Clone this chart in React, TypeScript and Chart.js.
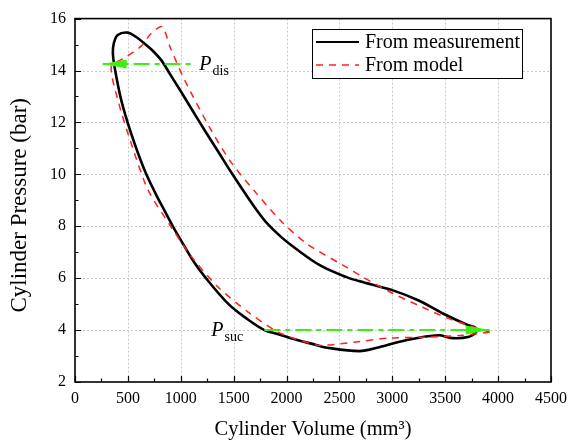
import React, { useEffect, useRef } from 'react';
import { Chart, registerables } from 'chart.js';

Chart.register(...registerables);

// ---------- data ----------
const measVolume = [3800, 3781, 3716, 3473, 3249, 3006, 2726, 2567, 2318, 2070, 1945, 1821, 1736, 1652, 1478, 1350, 1230, 1115, 1000, 900, 815, 730, 654, 575, 498, 404, 367, 358, 373, 436, 529, 654, 763, 840, 925, 1010, 1120, 1230, 1447, 1620, 1790, 1914, 2100, 2287, 2353, 2689, 2876, 3128, 3436, 3566, 3716, 3800];
const measPressure = [3.92, 4.11, 4.19, 4.65, 5.14, 5.53, 5.84, 6.04, 6.49, 7.19, 7.6, 8.09, 8.52, 9.0, 10.07, 10.9, 11.67, 12.43, 13.2, 13.85, 14.4, 14.78, 15.05, 15.3, 15.46, 15.37, 15.05, 14.67, 14.16, 12.88, 11.6, 10.2, 9.25, 8.65, 8.0, 7.4, 6.65, 6.04, 5.02, 4.45, 4.0, 3.85, 3.62, 3.42, 3.34, 3.19, 3.34, 3.61, 3.8, 3.69, 3.73, 3.92];

const modelVolume = [3921, 3716, 3501, 3286, 3006, 2726, 2537, 2194, 1945, 1696, 1478, 1291, 1043, 903, 824, 722, 628, 467, 343, 404, 529, 690, 905, 1105, 1354, 1634, 1886, 2035, 2287, 2381, 2633, 2969, 3342, 3660, 3921];
const modelPressure = [3.92, 4.19, 4.49, 4.88, 5.41, 6.03, 6.49, 7.32, 8.21, 9.36, 10.45, 11.67, 13.58, 14.86, 15.69, 15.44, 14.95, 14.48, 14.16, 12.88, 11.22, 9.4, 8.0, 6.81, 5.65, 4.7, 4.0, 3.73, 3.42, 3.42, 3.53, 3.69, 3.73, 3.8, 3.92];

const disLineVolume = [261, 1100];
const disLinePressure = [14.25, 14.25];
const sucLineVolume = [1790, 3921];
const sucLinePressure = [4.0, 4.0];

const xTickValues = [0, 500, 1000, 1500, 2000, 2500, 3000, 3500, 4000, 4500];
const yTickValues = [2, 4, 6, 8, 10, 12, 14, 16];
const legendLabels = ['From measurement', 'From model'];
const xTitle = 'Cylinder Volume (mm³)';
const yTitle = 'Cylinder Pressure (bar)';

// ---------- styles ----------
const FONT = '"Liberation Serif", "Times New Roman", serif';
const GREEN = '#3cee12';
const RED = '#ff2020';

const pts = (xs: number[], ys: number[]) => xs.map((v, i) => ({ x: v, y: ys[i] }));

const decor = {
  id: 'decor',
  beforeDatasetsDraw(chart: any) {
    const { ctx, chartArea: a, scales } = chart;
    const x = scales.x, y = scales.y;
    ctx.save();
    ctx.strokeStyle = '#c8c8c8';
    ctx.lineWidth = 1;
    ctx.setLineDash([2, 2]);
    ctx.beginPath();
    for (const v of xTickValues) {
      const px = Math.round(x.getPixelForValue(v)) + 0.5;
      if (px < a.left + 2 || px > a.right - 2) continue;
      ctx.moveTo(px, a.top);
      ctx.lineTo(px, a.bottom);
    }
    for (const v of yTickValues) {
      const py = Math.round(y.getPixelForValue(v)) + 0.5;
      if (py < a.top + 2 || py > a.bottom - 2) continue;
      ctx.moveTo(a.left, py);
      ctx.lineTo(a.right, py);
    }
    ctx.stroke();
    ctx.restore();
  },
  afterDatasetsDraw(chart: any) {
    const { ctx, scales } = chart;
    const x = scales.x, y = scales.y;
    const arrow = (tx: number, ty: number, dir: number) => {
      const L = 24, h = 4.5;
      ctx.beginPath();
      ctx.moveTo(tx, ty);
      ctx.lineTo(tx - dir * L, ty - h);
      ctx.lineTo(tx - dir * L, ty + h);
      ctx.closePath();
      ctx.fill();
    };
    ctx.save();
    ctx.fillStyle = GREEN;
    arrow(x.getPixelForValue(disLineVolume[0]), y.getPixelForValue(disLinePressure[0]), -1);
    arrow(x.getPixelForValue(sucLineVolume[1]), y.getPixelForValue(sucLinePressure[1]), 1);

    ctx.fillStyle = '#000';
    ctx.textBaseline = 'alphabetic';
    ctx.textAlign = 'left';
    const drawP = (px: number, py: number, sub: string) => {
      ctx.font = `italic 20px ${FONT}`;
      ctx.fillText('P', px, py);
      const w = ctx.measureText('P').width;
      ctx.font = `14px ${FONT}`;
      ctx.fillText(sub, px + w + 1, py + 5);
    };
    const dEndX = x.getPixelForValue(disLineVolume[1]);
    const dY = y.getPixelForValue(disLinePressure[1]);
    drawP(dEndX + 8, dY + 6, 'dis');
    const sStartX = x.getPixelForValue(sucLineVolume[0]);
    const sY = y.getPixelForValue(sucLinePressure[0]);
    drawP(sStartX - 53, sY + 6, 'suc');
    ctx.restore();
  },
  afterDraw(chart: any) {
    const { ctx, chartArea: a, scales } = chart;
    const x = scales.x, y = scales.y;
    ctx.save();
    // frame
    ctx.strokeStyle = '#000';
    ctx.lineWidth = 1.6;
    ctx.setLineDash([]);
    ctx.strokeRect(a.left, a.top, a.right - a.left, a.bottom - a.top);
    // inward ticks
    ctx.lineWidth = 1.2;
    ctx.beginPath();
    for (let v = 0; v <= 4500; v += 250) {
      const px = Math.round(x.getPixelForValue(v)) + 0.5;
      const len = v % 500 === 0 ? 6 : 3.5;
      ctx.moveTo(px, a.bottom);
      ctx.lineTo(px, a.bottom - len);
    }
    for (let v = 2; v <= 16; v += 1) {
      const py = Math.round(y.getPixelForValue(v)) + 0.5;
      const len = v % 2 === 0 ? 6 : 3.5;
      ctx.moveTo(a.left, py);
      ctx.lineTo(a.left + len, py);
    }
    ctx.stroke();

    // y title
    ctx.fillStyle = '#000';
    ctx.font = `23px ${FONT}`;
    ctx.textAlign = 'center';
    ctx.textBaseline = 'middle';
    ctx.translate(20, (a.top + a.bottom) / 2 + 5);
    ctx.rotate(-Math.PI / 2);
    ctx.fillText(yTitle, 0, 0);
    ctx.setTransform(1, 0, 0, 1, 0, 0);

    // legend
    const bx = 312, by = 29, bw = 210, bh = 49;
    ctx.fillStyle = '#fff';
    ctx.fillRect(bx, by, bw, bh);
    ctx.lineWidth = 1;
    ctx.strokeStyle = '#000';
    ctx.strokeRect(bx + 0.5, by + 0.5, bw, bh);
    const rows = [by + 13, by + 36];
    ctx.lineWidth = 2.2;
    ctx.beginPath();
    ctx.moveTo(bx + 4, rows[0]);
    ctx.lineTo(bx + 47, rows[0]);
    ctx.stroke();
    ctx.strokeStyle = RED;
    ctx.lineWidth = 1.5;
    ctx.setLineDash([7, 6]);
    ctx.beginPath();
    ctx.moveTo(bx + 4, rows[1]);
    ctx.lineTo(bx + 47, rows[1]);
    ctx.stroke();
    ctx.setLineDash([]);
    ctx.fillStyle = '#000';
    ctx.font = `20px ${FONT}`;
    ctx.textBaseline = 'middle';
    ctx.textAlign = 'left';
    ctx.fillText(legendLabels[0], bx + 53, rows[0] + 1);
    ctx.fillText(legendLabels[1], bx + 53, rows[1] + 1);
    ctx.restore();
  },
};

export default function App() {
  const ref = useRef<HTMLCanvasElement | null>(null);
  useEffect(() => {
    if (!ref.current) return;
    const chart = new Chart(ref.current, {
      type: 'scatter',
      data: {
        datasets: [
          {
            label: 'Pdis',
            data: pts(disLineVolume, disLinePressure),
            showLine: true,
            borderColor: GREEN,
            borderWidth: 2,
            borderDash: [16, 5, 5, 5],
            pointRadius: 0,
          },
          {
            label: 'Psuc',
            data: pts(sucLineVolume, sucLinePressure),
            showLine: true,
            borderColor: GREEN,
            borderWidth: 2,
            borderDash: [16, 5, 5, 5],
            pointRadius: 0,
          },
          {
            label: legendLabels[1],
            data: pts(modelVolume, modelPressure),
            showLine: true,
            borderColor: RED,
            borderWidth: 1.5,
            borderDash: [7, 6],
            pointRadius: 0,
            tension: 0.25,
          },
          {
            label: legendLabels[0],
            data: pts(measVolume, measPressure),
            showLine: true,
            borderColor: '#000',
            borderWidth: 2.6,
            pointRadius: 0,
            tension: 0.35,
          },
        ],
      },
      options: {
        animation: false,
        responsive: false,
        events: [],
        layout: { padding: { top: 17, right: 17, left: 0, bottom: 0 } },
        plugins: { legend: { display: false }, tooltip: { enabled: false } },
        scales: {
          x: {
            type: 'linear',
            min: 0,
            max: 4500,
            afterFit: (s: any) => { s.height = 60; },
            afterBuildTicks: (s: any) => { s.ticks = xTickValues.map((v) => ({ value: v })); },
            ticks: { color: '#000', font: { family: FONT, size: 16 }, padding: 7, maxRotation: 0, callback: (v: any) => String(v) },
            grid: { display: false, drawTicks: false },
            border: { display: false },
            title: { display: true, text: xTitle, color: '#000', font: { family: FONT, size: 20.5 }, padding: { top: 0, bottom: 0 } },
          },
          y: {
            type: 'linear',
            min: 2,
            max: 16,
            afterFit: (s: any) => { s.width = 75; },
            afterBuildTicks: (s: any) => { s.ticks = yTickValues.map((v) => ({ value: v })); },
            ticks: { color: '#000', font: { family: FONT, size: 16 }, padding: 9, callback: (v: any) => String(v) },
            grid: { display: false, drawTicks: false },
            border: { display: false },
            title: { display: false },
          },
        },
      },
      plugins: [decor],
    } as any);
    return () => chart.destroy();
  }, []);
  return (
    <div style={{ position: 'absolute', left: 0, top: 0, width: 574, height: 442, background: '#fff' }}>
      <canvas ref={ref} width={574} height={442} />
    </div>
  );
}
